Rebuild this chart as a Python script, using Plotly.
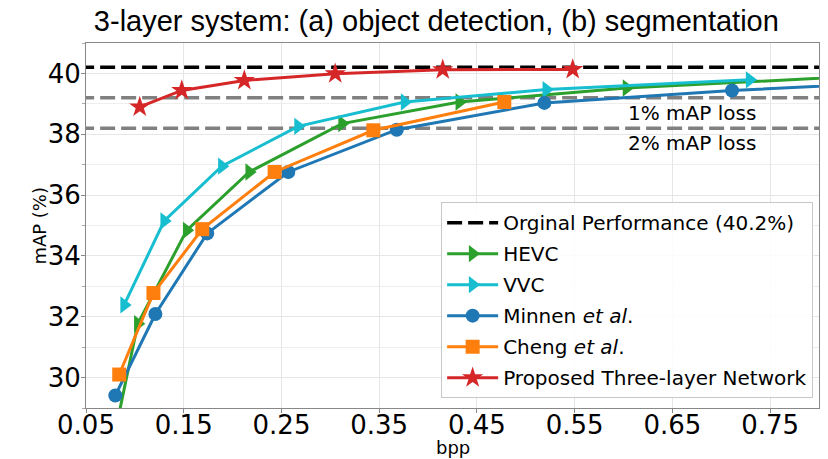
import plotly.graph_objects as go

# ---- data ----
original_map = 40.2
loss_1pct = 39.2
loss_2pct = 38.2

hevc_bpp = [0.072, 0.103, 0.153, 0.217, 0.312, 0.432, 0.603, 0.90]
hevc_map = [27.0, 31.77, 34.84, 36.76, 38.35, 39.06, 39.52, 40.0]

vvc_bpp = [0.089, 0.130, 0.189, 0.267, 0.376, 0.521, 0.729]
vvc_map = [32.39, 35.15, 36.95, 38.26, 39.06, 39.47, 39.79]

minnen_bpp = [0.080, 0.121, 0.174, 0.257, 0.368, 0.519, 0.711, 0.95]
minnen_map = [29.41, 32.09, 34.74, 36.76, 38.15, 39.03, 39.44, 39.8]

cheng_bpp = [0.084, 0.119, 0.169, 0.243, 0.344, 0.478]
cheng_map = [30.10, 32.78, 34.88, 36.76, 38.13, 39.06]

prop_bpp = [0.105, 0.148, 0.212, 0.305, 0.415, 0.548]
prop_map = [38.90, 39.44, 39.77, 39.99, 40.12, 40.13]

x_range = [0.05, 0.80]
y_range = [29, 41]

FONT = "DejaVu Sans"
fig = go.Figure()

# reference lines
for yv in [loss_1pct, loss_2pct]:
    fig.add_trace(go.Scatter(x=[0, 1.0], y=[yv, yv], mode="lines",
                             line=dict(color="#808080", width=3.5, dash="15px,6px"),
                             showlegend=False, hoverinfo="skip"))

fig.add_trace(go.Scatter(x=[0, 1.0], y=[original_map, original_map], mode="lines",
                         name="Orginal Performance (40.2%)", legendgroup="a",
                         line=dict(color="black", width=3.5, dash="15px,6px")))

series = [
    ("HEVC", hevc_bpp, hevc_map, "#2ca02c", "triangle-right", 15, "b"),
    ("VVC", vvc_bpp, vvc_map, "#17becf", "triangle-right", 15, "c"),
    ("Minnen <i>et al</i>.", minnen_bpp, minnen_map, "#1f77b4", "circle", 14, "d"),
    ("Cheng <i>et al</i>.", cheng_bpp, cheng_map, "#ff7f0e", "square", 14, "e"),
    ("Proposed Three-layer Network", prop_bpp, prop_map, "#d62728", "star", 16, "f"),
]
for name, xs, ys, col, sym, sz, grp in series:
    fig.add_trace(go.Scatter(x=xs, y=ys, mode="lines+markers", name=name,
                             legendgroup=grp,
                             line=dict(color=col, width=3),
                             marker=dict(symbol=sym, size=sz, color=col,
                                         line=dict(width=0))))

fig.add_annotation(x=0.67, y=38.69, text="1% mAP loss", showarrow=False,
                   font=dict(family=FONT, size=20, color="black"))
fig.add_annotation(x=0.67, y=37.70, text="2% mAP loss", showarrow=False,
                   font=dict(family=FONT, size=20, color="black"))

# axis titles placed as annotations so they sit as tightly as in the reference
fig.add_annotation(x=0.5, y=-0.107, xref="paper", yref="paper", text="bpp",
                   showarrow=False, xanchor="center", yanchor="middle",
                   font=dict(family=FONT, size=18, color="black"))
fig.add_annotation(x=-0.064, y=0.5, xref="paper", yref="paper", text="mAP (%)",
                   showarrow=False, xanchor="center", yanchor="middle",
                   textangle=-90, font=dict(family=FONT, size=18, color="black"))

fig.update_layout(
    width=828, height=459,
    margin=dict(l=86, r=9, t=43, b=51, autoexpand=False),
    paper_bgcolor="white", plot_bgcolor="white",
    font=dict(family=FONT, color="black"),
    title=dict(text="3-layer system: (a) object detection, (b) segmentation",
               font=dict(family="Liberation Sans", size=29, color="black"),
               x=0.478, xref="paper", xanchor="center",
               y=0.955, yref="container", yanchor="middle"),
    legend=dict(x=0.992, y=0.027, xanchor="right", yanchor="bottom",
                bgcolor="rgba(255,255,255,0.85)", bordercolor="#c8c8c8",
                borderwidth=1, font=dict(family=FONT, size=20),
                traceorder="grouped", tracegroupgap=2, itemwidth=51),
    showlegend=True,
)
fig.update_xaxes(range=x_range, tick0=0.05, dtick=0.1, tickformat=".2f",
                 automargin=False, ticklabelstandoff=-10,
                 tickfont=dict(size=26), showgrid=True, gridcolor="#e6e6e6",
                 showline=True, linecolor="#888888", linewidth=1, mirror=True,
                 ticks="outside", ticklen=4, tickcolor="#888888", zeroline=False)
fig.update_yaxes(range=y_range, tick0=30, dtick=2, automargin=False,
                 ticklabelstandoff=-5,
                 tickfont=dict(size=26), showgrid=True, gridcolor="#e6e6e6",
                 minor=dict(dtick=1, showgrid=True, gridcolor="#eeeeee",
                            ticks="outside", ticklen=3, tickcolor="#aaaaaa"),
                 showline=True, linecolor="#888888", linewidth=1, mirror=True,
                 ticks="outside", ticklen=4, tickcolor="#888888", zeroline=False)

fig.write_html("out.html", config={"displayModeBar": False},
               post_script="document.body.style.margin='0';")
